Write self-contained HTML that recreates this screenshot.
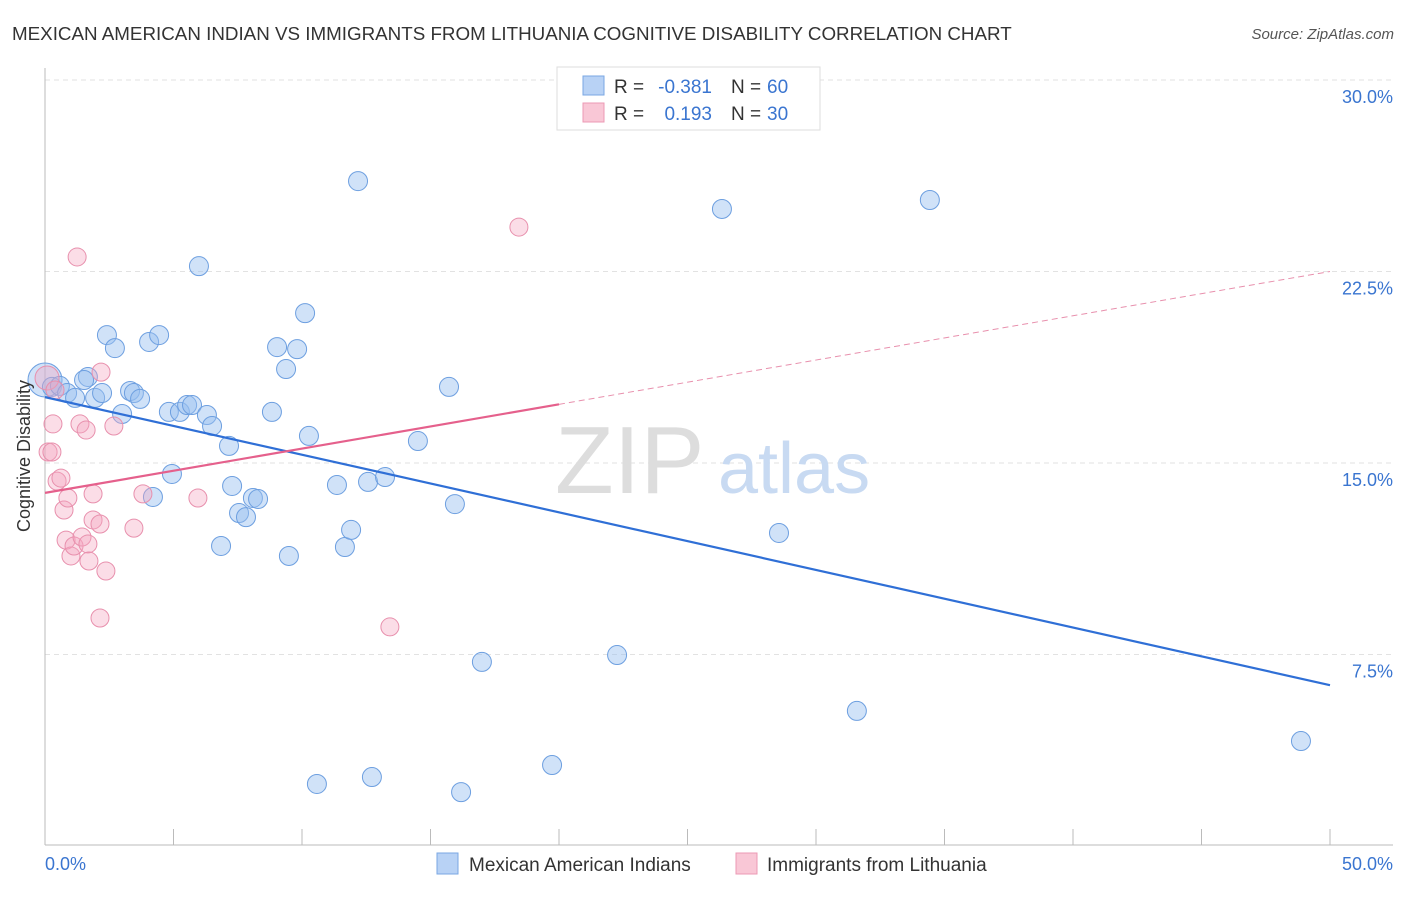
<!DOCTYPE html>
<html><head><meta charset="utf-8"><style>
body{margin:0;background:#fff;font-family:"Liberation Sans",sans-serif}
svg text{font-family:"Liberation Sans",sans-serif}
</style></head><body>
<svg width="1406" height="892">
<text x="12" y="40" font-size="18.8" fill="#333">MEXICAN AMERICAN INDIAN VS IMMIGRANTS FROM LITHUANIA COGNITIVE DISABILITY CORRELATION CHART</text>
<text x="1394" y="39" font-size="15" fill="#555" font-style="italic" text-anchor="end">Source: ZipAtlas.com</text>
<g id="grid"></g>
<text x="555" y="493" font-size="96" fill="#ddd" font-family="Liberation Serif">ZIP</text>
<text x="718" y="493" font-size="72" fill="#c8daf2">atlas</text>
<line x1="45" y1="68" x2="45" y2="845" stroke="#bbb"/>
<line x1="45" y1="845" x2="1393" y2="845" stroke="#bbb"/>
<g id="ticks"></g>
<g id="marks"></g>
<g id="lines"></g>
<text x="30" y="456" font-size="18" fill="#333" text-anchor="middle" transform="rotate(-90 30 456)">Cognitive Disability</text>
<text x="45" y="870" font-size="18" fill="#3a75d0">0.0%</text>
<text x="1393" y="870" font-size="18" fill="#3a75d0" text-anchor="end">50.0%</text>
<g>
<rect x="557" y="67" width="263" height="63" fill="#fff" stroke="#ddd"/>
<rect x="583" y="76" width="21" height="19" fill="#b8d2f5" stroke="#7aa7e3"/>
<rect x="583" y="103" width="21" height="19" fill="#f9c7d6" stroke="#ec9ab4"/>
<text x="614" y="93" font-size="19" fill="#333">R =</text>
<text x="712" y="93" font-size="19" fill="#3a75d0" text-anchor="end">-0.381</text>
<text x="731" y="93" font-size="19" fill="#333">N =</text>
<text x="767" y="93" font-size="19" fill="#3a75d0">60</text>
<text x="614" y="120" font-size="19" fill="#333">R =</text>
<text x="712" y="120" font-size="19" fill="#3a75d0" text-anchor="end">0.193</text>
<text x="731" y="120" font-size="19" fill="#333">N =</text>
<text x="767" y="120" font-size="19" fill="#3a75d0">30</text>
</g>
<g>
<rect x="437" y="853" width="21" height="21" fill="#b8d2f5" stroke="#7aa7e3"/>
<text x="469" y="871" font-size="19" fill="#333">Mexican American Indians</text>
<rect x="736" y="853" width="21" height="21" fill="#f9c7d6" stroke="#ec9ab4"/>
<text x="767" y="871" font-size="19" fill="#333">Immigrants from Lithuania</text>
</g>
</svg>
<script>
const yTicks=[7.5,15,22.5,30];
const yTickLabels=["7.5%","15.0%","22.5%","30.0%"];
const xTicks=[0,5,10,15,20,25,30,35,40,45,50];
const blueX=[0,0.27,0.58,0.86,1.17,1.67,1.52,1.95,2.22,2.41,2.72,3.00,3.31,3.46,3.70,4.05,4.20,4.44,4.82,4.94,5.25,5.53,5.72,5.99,6.30,6.50,7.16,7.28,7.55,7.82,8.09,8.29,6.85,8.83,9.03,9.38,9.49,9.81,10.12,10.27,10.58,11.36,11.67,11.91,12.18,12.57,12.72,13.23,14.51,15.72,15.95,16.19,17.00,19.73,22.26,26.34,28.56,31.59,34.43,48.87];
const blueY=[18.25,17.98,18.02,17.74,17.55,18.37,18.25,17.55,17.74,20.01,19.50,16.92,17.82,17.74,17.51,19.74,13.67,20.01,17.00,14.57,17.00,17.27,17.27,22.71,16.88,16.45,15.67,14.10,13.04,12.88,13.63,13.59,11.75,17.00,19.54,18.68,11.36,19.46,20.87,16.06,2.43,14.14,11.71,12.38,26.04,14.26,2.70,14.45,15.86,17.98,13.39,2.11,7.21,3.17,7.48,24.95,12.26,5.29,25.30,4.11];
const pinkX=[0.08,0.31,0.12,0.27,0.47,0.62,0.74,0.89,0.82,1.01,1.13,1.25,1.36,1.44,1.60,1.67,1.71,1.87,1.87,2.14,2.18,2.37,2.14,2.68,3.46,3.81,5.95,13.42,18.44,0.39];
const pinkY=[18.33,16.53,15.43,15.43,14.29,14.41,13.16,13.63,11.98,11.36,11.75,23.07,16.53,12.10,16.29,11.83,11.16,13.79,12.77,12.61,18.56,10.77,8.93,16.45,12.45,13.79,13.63,8.58,24.24,17.86];
const blueTrend=[17.58,6.30];
const pinkTrend=[13.83,22.5];
const pinkSolidEnd=20;
const X=v=>45+v/50*1285, Y=v=>846-v/7.5*191.5;
const NS="http://www.w3.org/2000/svg";
function mk(t,a,p){const e=document.createElementNS(NS,t);for(const k in a)e.setAttribute(k,a[k]);document.getElementById(p).appendChild(e);return e;}
yTicks.forEach((t,i)=>{
 const l=mk('line',{x1:45,x2:1393,y1:Y(t),y2:Y(t),stroke:'#e2e2e2','stroke-dasharray':'5,4'},'grid');
 
 
 const tx=mk('text',{x:1393,y:Y(t)+23,'font-size':18,fill:'#3a75d0','text-anchor':'end'},'grid');
 tx.textContent=yTickLabels[i];
 
 
});
xTicks.forEach(t=>{
 const l=mk('line',{x1:X(t),x2:X(t),y1:829,y2:845,stroke:'#bbb'},'ticks');
 
 
});
function dot(x,y,r,fill,st,name){
 const c=mk('circle',{cx:X(x),cy:Y(y),r:r,fill:fill,stroke:st,'stroke-width':1},'marks');
 
 
}
blueX.forEach((x,i)=>dot(x,blueY[i],i==0?17:9.5,'rgba(150,190,240,0.45)','#6d9fe0','blue-point'));
pinkX.forEach((x,i)=>dot(x,pinkY[i],i==0?12:9,'rgba(245,165,192,0.38)','#e890ad','pink-point'));
let l=mk('line',{x1:X(0),y1:Y(blueTrend[0]),x2:X(50),y2:Y(blueTrend[1]),stroke:'#2f6fd6','stroke-width':2.2},'lines');


const pm=(pinkTrend[1]-pinkTrend[0])/50;
l=mk('line',{x1:X(0),y1:Y(pinkTrend[0]),x2:X(pinkSolidEnd),y2:Y(pinkTrend[0]+pm*pinkSolidEnd),stroke:'#e5608c','stroke-width':2.2},'lines');


l=mk('line',{x1:X(pinkSolidEnd),y1:Y(pinkTrend[0]+pm*pinkSolidEnd),x2:X(50),y2:Y(pinkTrend[1]),stroke:'#e890ad','stroke-width':1,'stroke-dasharray':'6,4'},'lines');


</script>
</body></html>
